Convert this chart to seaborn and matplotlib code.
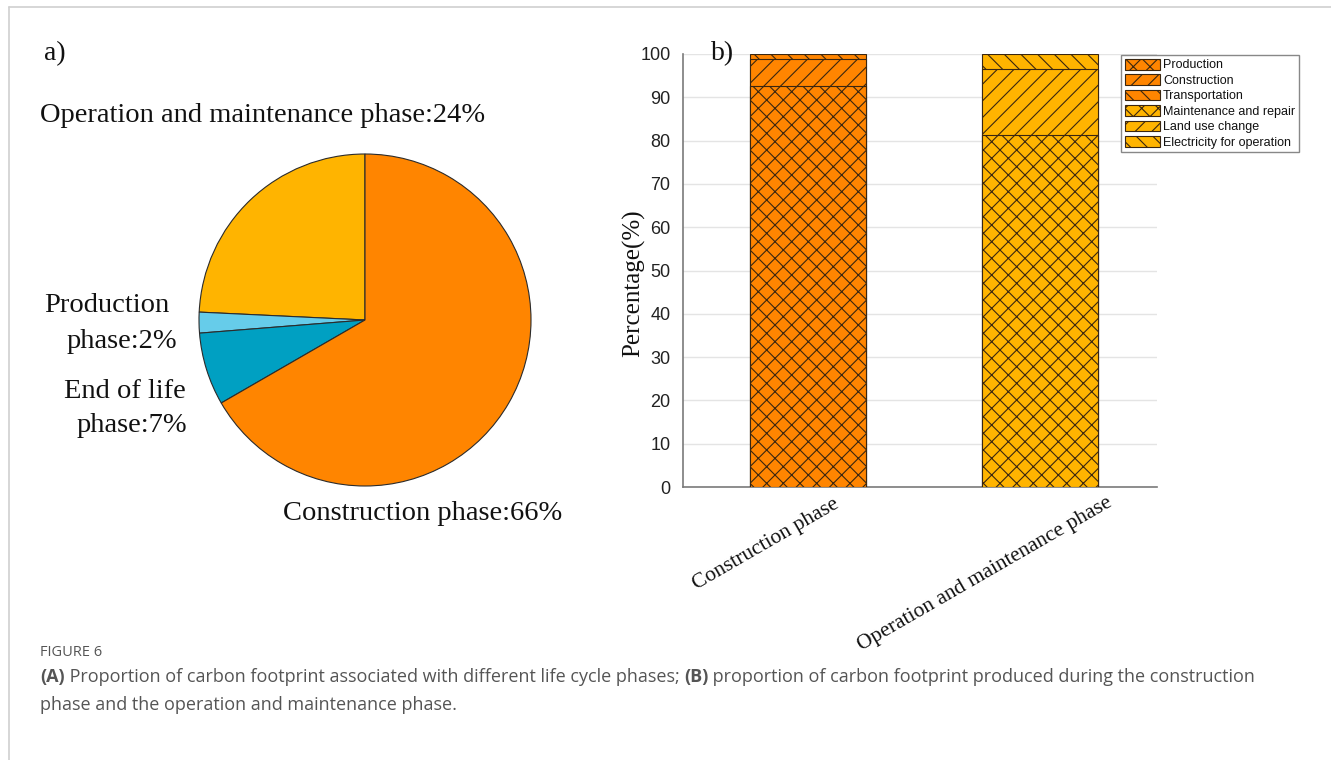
import matplotlib
matplotlib.use("Agg")
import matplotlib.pyplot as plt
from matplotlib.patches import Patch
from matplotlib.lines import Line2D
from matplotlib.transforms import ScaledTranslation
import seaborn as sns
import pandas as pd

# ---- data -------------------------------------------------------------
phase_labels = ["Operation and maintenance phase", "Production phase",
                "End of life phase", "Construction phase"]
phase_share = [24, 2, 7, 66]
phase_colors = ["#FFB400", "#66CCEA", "#00A0C2", "#FF8500"]

bar_categories = ["Construction phase", "Operation and maintenance phase"]
layer_bottom = [92.5, 81.3]   # Production / Maintenance and repair
layer_middle = [6.3, 15.2]    # Construction / Land use change
layer_top = [1.2, 3.5]        # Transportation / Electricity for operation
bar_colors = ["#FF8500", "#FFB400"]
legend_labels = ["Production", "Construction", "Transportation",
                 "Maintenance and repair", "Land use change",
                 "Electricity for operation"]
yticks = [0, 10, 20, 30, 40, 50, 60, 70, 80, 90, 100]

# ---- figure -----------------------------------------------------------
sns.set_theme(style="white")
plt.rcParams["hatch.linewidth"] = 0.8
W, H, DPI = 1331, 760, 100
fig = plt.figure(figsize=(W / DPI, H / DPI), dpi=DPI)
fig.patch.set_facecolor("white")

SERIF = "Liberation Serif"
SANS = "Liberation Sans"


def fx(px):
    return px / W


def fy(py):
    return 1 - py / H


# page frame
fig.add_artist(Line2D([fx(9), 1], [fy(7), fy(7)], color="#d0d0d0", lw=1.2))
fig.add_artist(Line2D([fx(9), fx(9)], [fy(7), 0], color="#d0d0d0", lw=1.2))

# ---- (a) pie ----------------------------------------------------------
cx, cy, r = 365, 320, 166
ax_pie = fig.add_axes([fx(cx - r), fy(cy + r), 2 * r / W, 2 * r / H])
ax_pie.pie(phase_share, colors=phase_colors, startangle=90, counterclock=True,
           wedgeprops=dict(edgecolor="#2b2b2b", linewidth=0.8))
ax_pie.set_xlim(-1, 1)
ax_pie.set_ylim(-1, 1)
ax_pie.set_aspect("auto")
ax_pie.axis("off")

pie_font = dict(family=SERIF, fontsize=20.5, color="#111111", va="center")
fig.text(fx(44), fy(54), "a)", family=SERIF, fontsize=20, color="#111111", va="center")
fig.text(fx(40), fy(116), f"{phase_labels[0]}:{phase_share[0]}%", **pie_font)
fig.text(fx(44), fy(305), "Production", **pie_font)
fig.text(fx(67), fy(341), f"phase:{phase_share[1]}%", **pie_font)
fig.text(fx(64), fy(391), "End of life", **pie_font)
fig.text(fx(77), fy(426), f"phase:{phase_share[2]}%", **pie_font)
fig.text(fx(283), fy(514), f"{phase_labels[3]}:{phase_share[3]}%", **pie_font)

# ---- (b) stacked bars ---------------------------------------------------
AX_L, AX_R, AX_T, AX_B = 683, 1157, 54, 487
ax = fig.add_axes([fx(AX_L), fy(AX_B), (AX_R - AX_L) / W, (AX_B - AX_T) / H])
df = pd.DataFrame({
    "phase": bar_categories,
    "bottom": layer_bottom,
    "middle": layer_middle,
    "top": layer_top,
})
df["cum_mid"] = df["bottom"] + df["middle"]
df["cum_top"] = df["cum_mid"] + df["top"]

edge = "#3a2610"
hatches = ["xx", "//", "\\\\"]
for col, hatch in [("cum_top", hatches[2]), ("cum_mid", hatches[1]),
                   ("bottom", hatches[0])]:
    sns.barplot(data=df, x="phase", y=col, hue="phase", palette=bar_colors,
                saturation=1, width=0.5, hatch=hatch, edgecolor=edge,
                linewidth=0.8, legend=False, ax=ax, zorder=3)

ax.set_ylim(0, 100)
ax.set_xlim(-0.54, 1.505)
ax.set_yticks(yticks)
ax.grid(axis="y", color="#e4e4e4", linewidth=1, zorder=0)
ax.set_axisbelow(True)
for s in ["top", "right"]:
    ax.spines[s].set_visible(False)
for s in ["left", "bottom"]:
    ax.spines[s].set_color("#7a7a7a")
    ax.spines[s].set_linewidth(1.2)
ax.tick_params(axis="y", direction="out", length=5, width=1, color="#7a7a7a",
               pad=4, labelsize=13, labelcolor="#222222")
ax.tick_params(axis="x", direction="out", length=4, width=1, color="#7a7a7a",
               pad=6)
for lab in ax.get_yticklabels():
    lab.set_family(SANS)
ax.set_xlabel("")
ax.set_ylabel("Percentage(%)", family=SERIF, fontsize=18, color="#111111")
ax.yaxis.set_label_coords(-(AX_L - 645) / (AX_R - AX_L),
                          (AX_B - 283) / (AX_B - AX_T))

ax.set_xticks(range(len(bar_categories)))
ax.set_xticklabels(bar_categories)
x_shift = [(25, 6), (66, 8)]
for lab, (dx, dy) in zip(ax.get_xticklabels(), x_shift):
    lab.set_family(SERIF)
    lab.set_fontsize(15.5)
    lab.set_color("#111111")
    lab.set_rotation(30)
    lab.set_ha("right")
    lab.set_va("top")
    lab.set_rotation_mode("anchor")
    lab.set_transform(lab.get_transform() +
                      ScaledTranslation(dx / DPI, dy / DPI, fig.dpi_scale_trans))

fig.text(fx(711), fy(54), "b)", family=SERIF, fontsize=20, color="#111111", va="center")

handles = []
for i, lab in enumerate(legend_labels):
    color = bar_colors[0] if i < 3 else bar_colors[1]
    handles.append(Patch(facecolor=color, edgecolor=edge, hatch=hatches[i % 3],
                         linewidth=0.8, label=lab))
leg = ax.legend(handles=handles, loc="upper left",
                bbox_to_anchor=(fx(1121), fy(55)), bbox_transform=fig.transFigure,
                prop=dict(family=SANS, size=9), frameon=True, fancybox=False,
                edgecolor="#888888", framealpha=1, borderpad=0.3,
                labelspacing=0.22, handlelength=2.8, handleheight=0.95,
                handletextpad=0.25, borderaxespad=0)
leg.get_frame().set_linewidth(1.0)
for t in leg.get_texts():
    t.set_color("#111111")

# ---- caption ------------------------------------------------------------
CAP = "Open Sans"
cap_color = "#555555"
fig.text(fx(40), fy(653), "FIGURE 6", family=CAP, fontsize=10.5, color=cap_color,
         va="center")

renderer = fig.canvas.get_renderer()


def caption_line(pieces, x0, y0):
    x = x0
    for txt, bold in pieces:
        t = fig.text(fx(x), fy(y0), txt, family=CAP, fontsize=13,
                     color=cap_color, va="center",
                     weight="bold" if bold else "normal")
        bb = t.get_window_extent(renderer)
        x += bb.width


caption_line([("(A)", True),
              (" Proportion of carbon footprint associated with different life cycle phases; ", False),
              ("(B)", True),
              (" proportion of carbon footprint produced during the construction", False)],
             40, 677)
caption_line([("phase and the operation and maintenance phase.", False)], 40, 705)

fig.savefig("out.png", dpi=DPI)
